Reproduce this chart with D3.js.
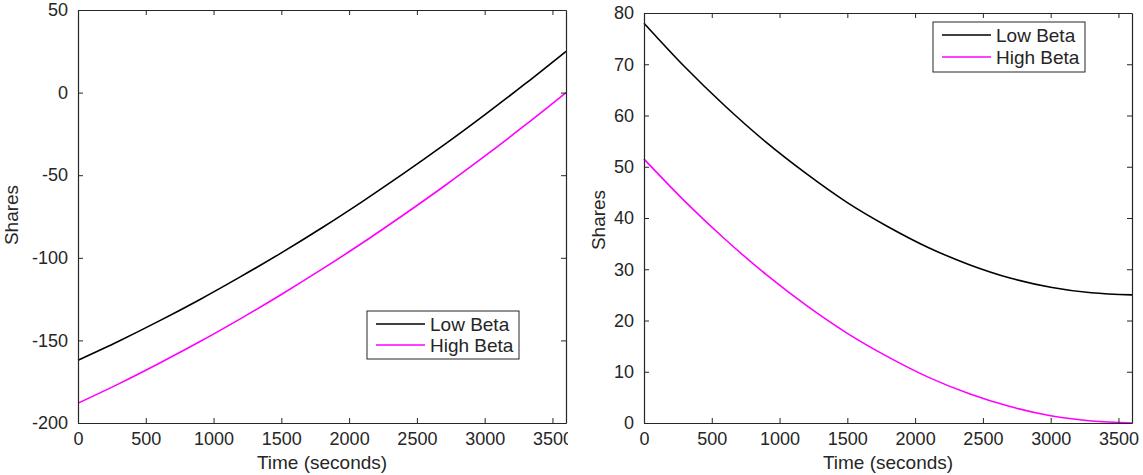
<!DOCTYPE html>
<html>
<head>
<meta charset="utf-8">
<script src="https://cdn.jsdelivr.net/npm/d3@7"></script>
<style>
  html, body { margin: 0; padding: 0; background: #fff; }
  svg { display: block; }
  text { font-family: "Liberation Sans", Arial, sans-serif; fill: #262626; }
</style>
</head>
<body>
<svg id="chart" width="1143" height="475"></svg>
<script>
// ---- data ----
const times = [0, 300, 600, 900, 1200, 1500, 1800, 2100, 2400, 2700, 3000, 3300, 3600];
const leftLowBeta  = [-162, -150.5, -138.2, -125.2, -111.4, -97.0, -81.8, -65.8, -49.1, -31.7, -13.5, 5.4, 25];
const leftHighBeta = [-188, -176.3, -163.8, -150.7, -136.8, -122.2, -106.9, -90.9, -74.1, -56.7, -38.5, -19.6, 0];
const rightLowBeta  = [78, 69.5, 61.8, 54.8, 48.6, 43.0, 38.3, 34.2, 30.9, 28.3, 26.5, 25.4, 25];
const rightHighBeta = [51.5, 43.3, 35.8, 29.0, 22.9, 17.5, 12.9, 8.9, 5.7, 3.2, 1.4, 0.4, 0];
const xTicks = [0, 500, 1000, 1500, 2000, 2500, 3000, 3500];
const leftYTicks = [-200, -150, -100, -50, 0, 50];
const rightYTicks = [0, 10, 20, 30, 40, 50, 60, 70, 80];
const seriesNames = ["Low Beta", "High Beta"];
const seriesColors = ["#000000", "#ff00ff"];
const xLabel = "Time (seconds)";
const yLabel = "Shares";

const svg = d3.select("#chart");
const axisColor = "#262626";
const tickFont = 18;
const labelFont = 19;
const fmt = d => String(d);   // plain hyphen-minus like the reference

const defs = svg.append("defs");

function panel(cfg) {
  const x = d3.scaleLinear().domain([0, 3600]).range([cfg.x0, cfg.x1]);
  const y = d3.scaleLinear().domain(cfg.yDomain).range([cfg.y1, cfg.y0]);

  defs.append("clipPath").attr("id", cfg.id)
    .append("rect").attr("x", cfg.clip[0]).attr("y", 0).attr("width", cfg.clip[1] - cfg.clip[0]).attr("height", 475);
  const g = svg.append("g").attr("clip-path", `url(#${cfg.id})`);

  const line = d3.line().x((d, i) => x(times[i])).y(d => y(d)).curve(d3.curveMonotoneX);
  cfg.series.forEach((s, k) => {
    g.append("path").datum(s).attr("d", line)
      .attr("fill", "none").attr("stroke", seriesColors[k]).attr("stroke-width", 1.6);
  });

  function style(sel, showText) {
    sel.select(".domain").attr("stroke", axisColor).attr("stroke-width", 1.2);
    sel.selectAll(".tick line").attr("stroke", axisColor).attr("stroke-width", 1);
    sel.selectAll(".tick text").attr("font-size", tickFont)
      .attr("font-family", "Liberation Sans, Arial, sans-serif").attr("fill", axisColor);
    if (!showText) sel.selectAll(".tick text").remove();
  }
  const xb = g.append("g").attr("transform", `translate(0,${cfg.y1})`)
    .call(d3.axisBottom(x).tickValues(xTicks).tickSizeInner(-5).tickSizeOuter(0).tickPadding(9).tickFormat(fmt));
  style(xb, true);
  const xt = g.append("g").attr("transform", `translate(0,${cfg.y0})`)
    .call(d3.axisTop(x).tickValues(xTicks).tickSizeInner(-5).tickSizeOuter(0));
  style(xt, false);
  const yl = g.append("g").attr("transform", `translate(${cfg.x0},0)`)
    .call(d3.axisLeft(y).tickValues(cfg.yTicks).tickSizeInner(-5).tickSizeOuter(0).tickPadding(10).tickFormat(fmt));
  style(yl, true);
  const yr = g.append("g").attr("transform", `translate(${cfg.x1},0)`)
    .call(d3.axisRight(y).tickValues(cfg.yTicks).tickSizeInner(-5).tickSizeOuter(0));
  style(yr, false);

  g.append("text").attr("x", (cfg.x0 + cfg.x1) / 2).attr("y", 469)
    .attr("text-anchor", "middle").attr("font-size", labelFont).text(xLabel);
  g.append("text")
    .attr("transform", `translate(${cfg.yLabelX},${cfg.yLabelY}) rotate(-90)`)
    .attr("text-anchor", "middle").attr("font-size", labelFont).text(yLabel);

  const lg = g.append("g");
  lg.append("rect").attr("x", cfg.leg.x).attr("y", cfg.leg.y).attr("width", cfg.leg.w).attr("height", cfg.leg.h)
    .attr("fill", "#fff").attr("stroke", axisColor).attr("stroke-width", 1);
  seriesNames.forEach((n, k) => {
    const cy = cfg.leg.rows[k];
    lg.append("line").attr("x1", cfg.leg.x + 9).attr("x2", cfg.leg.x + 58).attr("y1", cy).attr("y2", cy)
      .attr("stroke", seriesColors[k]).attr("stroke-width", 1.6);
    lg.append("text").attr("x", cfg.leg.x + 63).attr("y", cy).attr("dy", "0.35em")
      .attr("font-size", labelFont).text(n);
  });
}

panel({
  id: "clipL", clip: [0, 568],
  x0: 78, x1: 566, y0: 10, y1: 423, yDomain: [-200, 50], yTicks: leftYTicks,
  series: [leftLowBeta, leftHighBeta],
  yLabelX: 18, yLabelY: 215,
  leg: { x: 367, y: 311, w: 152, h: 48, rows: [324, 345] }
});
panel({
  id: "clipR", clip: [570, 1140],
  x0: 644, x1: 1132, y0: 13, y1: 423, yDomain: [0, 80], yTicks: rightYTicks,
  series: [rightLowBeta, rightHighBeta],
  yLabelX: 605, yLabelY: 220,
  leg: { x: 933, y: 22, w: 152, h: 50, rows: [35, 57] }
});
</script>
</body>
</html>
